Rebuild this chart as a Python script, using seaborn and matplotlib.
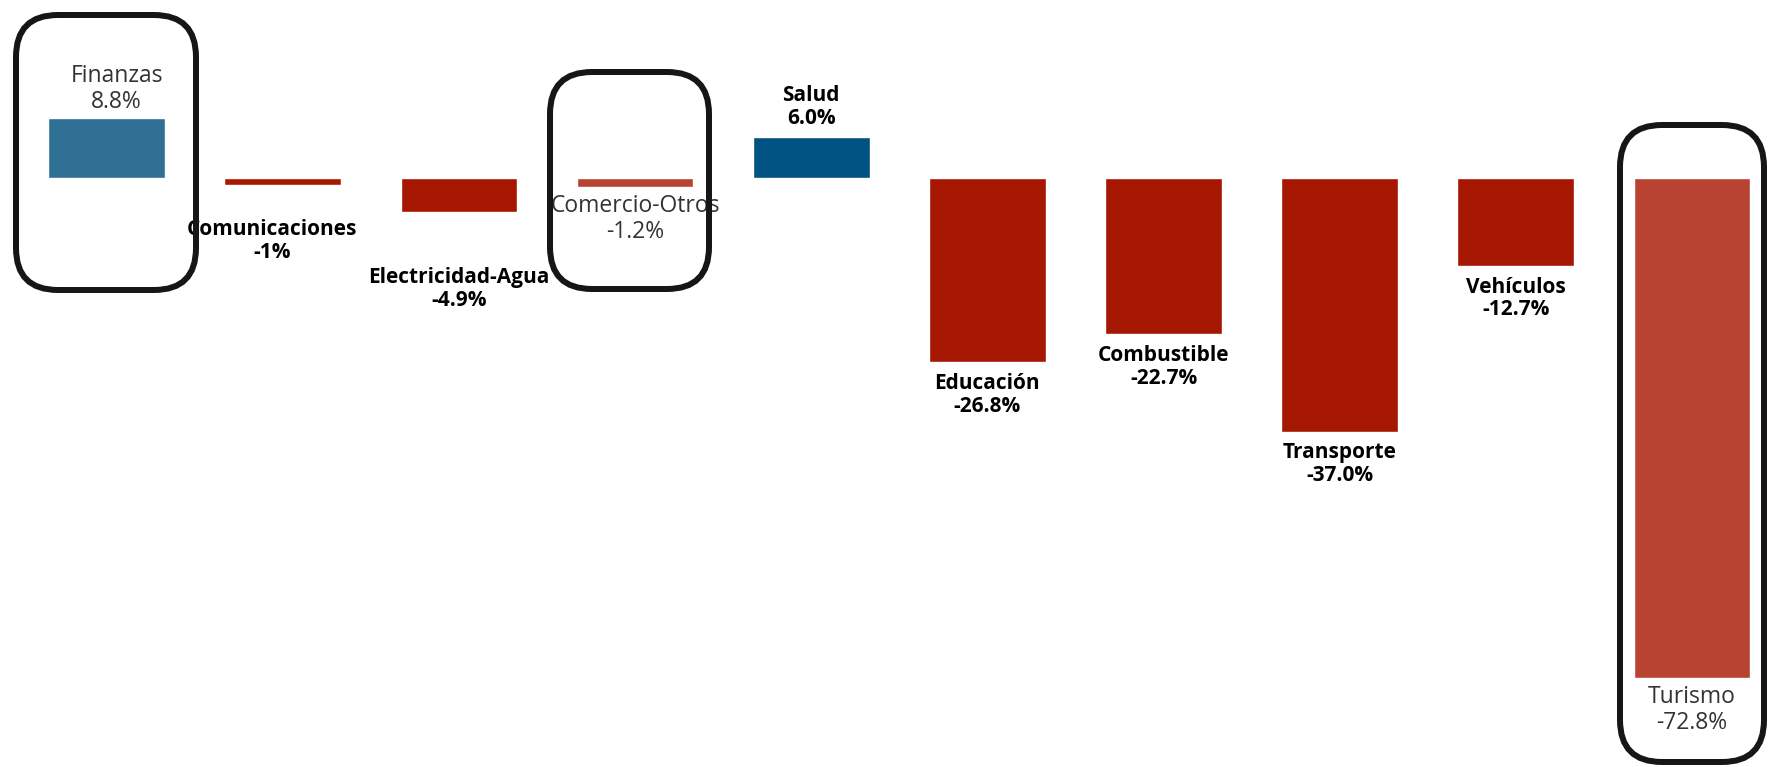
import numpy as np
import pandas as pd
import matplotlib.pyplot as plt
import seaborn as sns
from matplotlib.patches import FancyBboxPatch
from matplotlib.transforms import IdentityTransform

# Chart values (variación %)
categories = ['Finanzas', 'Comunicaciones', 'Electricidad-Agua', 'Comercio-Otros', 'Salud',
              'Educación', 'Combustible', 'Transporte', 'Vehículos', 'Turismo']
values = [8.8, -1.0, -4.9, -1.2, 6.0, -26.8, -22.7, -37.0, -12.7, -72.8]
value_labels = ['8.8%', '-1%', '-4.9%', '-1.2%', '6.0%', '-26.8%', '-22.7%', '-37.0%', '-12.7%', '-72.8%']

# Styling per bar
bar_colors = ['#307095', '#a81800', '#a51700', '#b94333', '#005282',
              '#a51700', '#a51700', '#a51700', '#a51700', '#b94333']
pasted = [True, False, False, True, False, False, False, False, False, True]  # gray, lighter labels
label_gap_px = [29, 56, 77, 32, 30, 33, 33, 32, 33, 32]  # gap bar end -> label block centre
label_dx_px = [10, -11, 0, 0, 0, 0, 0, 0, 0, 0]

W, H, DPI = 1769, 767, 100
PX = 72 / DPI  # pixels -> points


def main():
    sns.set_theme(style='white')
    plt.rcParams['font.family'] = ['Open Sans', 'DejaVu Sans']

    fig = plt.figure(figsize=(W / DPI, H / DPI), dpi=DPI)
    ax = fig.add_axes([0, 0, 1, 1])

    df = pd.DataFrame({'cat': categories, 'val': values})
    sns.barplot(data=df, x='cat', y='val', hue='cat', palette=bar_colors,
                legend=False, width=0.663, saturation=1, ax=ax)

    ax.set_xlim(-0.605, 9.437)
    ax.set_ylim(-85.8, 26.0)
    ax.axis('off')

    # labels
    for i, (cat, val, lab) in enumerate(zip(categories, values, value_labels)):
        sign = 1 if val > 0 else -1
        if pasted[i]:
            color, weight, size, ls = '#333333', 'medium', 16.5, 1.12
        else:
            color, weight, size, ls = '#000000', 'bold', 15, 1.12
        ax.annotate(f'{cat}\n{lab}', xy=(i, val),
                    xytext=(label_dx_px[i] * PX, sign * label_gap_px[i] * PX),
                    textcoords='offset points', ha='center', va='center',
                    fontsize=size, fontweight=weight, color=color, linespacing=ls)

    # rounded highlight boxes (pixel coords, from top-left)
    boxes = [(16, 15, 196, 290), (550, 72, 709, 289), (1620, 125, 1764, 762)]
    for x0, y0, x1, y1 in boxes:
        patch = FancyBboxPatch((x0, H - y1), x1 - x0, y1 - y0,
                               boxstyle='round,pad=0,rounding_size=42',
                               transform=IdentityTransform(), fill=False,
                               edgecolor='#161616', linewidth=6 * PX, zorder=10)
        fig.patches.append(patch)

    fig.savefig('out.png', dpi=DPI, facecolor='white')
    plt.close()


main()
